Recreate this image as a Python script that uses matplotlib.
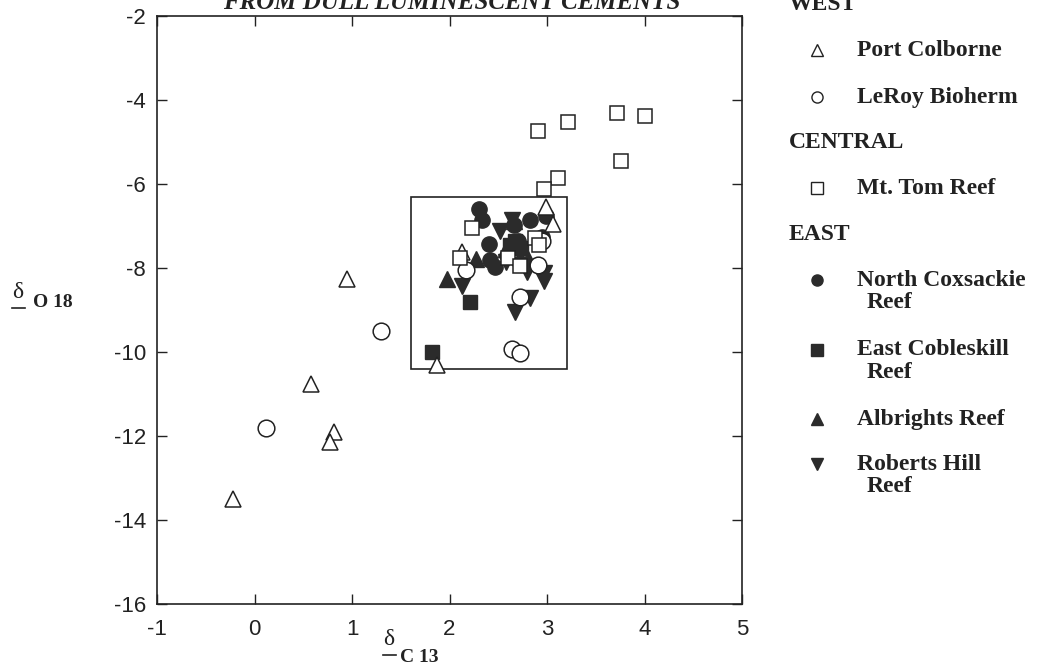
import matplotlib
matplotlib.use("Agg")
import matplotlib.pyplot as plt
from matplotlib.patches import Rectangle
from matplotlib.lines import Line2D

plt.rcParams["axes.unicode_minus"] = False

# valores (delta C13, delta O18)
port_x = [-0.22, 0.58, 0.82, 0.77, 0.95, 1.87, 2.13, 2.99, 3.06]
port_y = [-13.5, -10.75, -11.9, -12.15, -8.25, -10.3, -7.62, -6.55, -6.95]

leroy_x = [0.12, 1.30, 2.17, 2.91, 2.72, 2.64, 2.72, 2.95]
leroy_y = [-11.82, -9.5, -8.05, -7.93, -8.68, -9.93, -10.02, -7.35]

mttom_x = [2.91, 3.22, 3.72, 4.01, 3.76, 3.11, 2.97, 2.23, 2.11, 2.60, 2.88, 2.92, 2.72]
mttom_y = [-4.73, -4.52, -4.32, -4.37, -5.46, -5.86, -6.12, -7.05, -7.75, -7.75, -7.28, -7.45, -7.95]

coxs_x = [2.30, 2.33, 2.83, 2.99, 2.41, 2.42, 2.47, 2.70, 2.66, 2.95, 2.72]
coxs_y = [-6.6, -6.85, -6.85, -6.77, -7.42, -7.82, -7.98, -7.35, -6.98, -7.25, -7.88]

cobl_x = [1.82, 2.21, 2.67, 2.73, 2.62]
cobl_y = [-10.0, -8.82, -7.35, -7.52, -7.45]

albr_x = [1.97, 2.27, 2.66, 2.80, 2.58]
albr_y = [-8.25, -7.78, -6.88, -7.78, -7.55]

robh_x = [2.13, 2.67, 2.83, 2.79, 2.97, 2.97, 2.52, 2.64, 2.58]
robh_y = [-8.42, -9.05, -8.72, -8.1, -8.12, -8.3, -7.12, -6.85, -7.85]

x_ticks = [-1, 0, 1, 2, 3, 4, 5]
y_ticks = [-16, -14, -12, -10, -8, -6, -4, -2]

ink = "#222222"
fill = "#2b2b2b"
W, H = 1038, 667

fig = plt.figure(figsize=(W / 100, H / 100), dpi=100)
ax = fig.add_axes([157 / W, 1 - 604 / H, 585 / W, 588 / H])

# recuadro
ax.add_patch(Rectangle((1.6, -10.4), 1.6, 4.1, fill=False, lw=1.2, ec=ink, zorder=1))

# series rellenas primero, abiertas encima
ax.plot(coxs_x, coxs_y, "o", ms=11, mfc=fill, mec=fill, zorder=3)
ax.plot(cobl_x, cobl_y, "s", ms=10, mfc=fill, mec=fill, zorder=3)
ax.plot(albr_x, albr_y, "^", ms=11, mfc=fill, mec=fill, zorder=3)
ax.plot(robh_x, robh_y, "v", ms=11, mfc=fill, mec=fill, zorder=3)
ax.plot(port_x, port_y, "^", ms=12, mfc="white", mec=ink, mew=1.1, zorder=4)
ax.plot(leroy_x, leroy_y, "o", ms=12, mfc="white", mec=ink, mew=1.1, zorder=4)
ax.plot(mttom_x, mttom_y, "s", ms=10, mfc="white", mec=ink, mew=1.1, zorder=4)

ax.set_xlim(-1, 5)
ax.set_ylim(-16, -2)
ax.set_xticks(x_ticks)
ax.set_yticks(y_ticks)
ax.tick_params(direction="in", top=True, right=True, length=7, width=1, color=ink,
               labelsize=16, labelcolor=ink)
ax.tick_params(axis="x", pad=11)
ax.tick_params(axis="y", pad=8)
for lab in ax.get_xticklabels() + ax.get_yticklabels():
    lab.set_family("Liberation Sans")
for s in ax.spines.values():
    s.set_linewidth(1.2)
    s.set_color(ink)

serif = ["Liberation Serif", "DejaVu Serif"]

def fx(px):
    return px / W

def fy(py):
    return 1 - py / H

# titulo cortado arriba
fig.text(fx(452), fy(9), "FROM DULL LUMINESCENT CEMENTS", ha="center", va="baseline",
         family=serif, fontsize=18, weight="bold", style="italic", color=ink)

# etiquetas de ejes
fig.text(fx(12), fy(298), "δ", ha="left", va="baseline", family=serif, fontsize=17, color=ink)
fig.add_artist(Line2D([fx(12), fx(25)], [fy(308), fy(308)], color=ink, lw=1.2))
fig.text(fx(33), fy(307), "O 18", ha="left", va="baseline", family=serif, fontsize=14,
         weight="bold", color=ink)

fig.text(fx(383), fy(645), "δ", ha="left", va="baseline", family=serif, fontsize=17, color=ink)
fig.add_artist(Line2D([fx(383), fx(396)], [fy(655), fy(655)], color=ink, lw=1.2))
fig.text(fx(400), fy(662), "C 13", ha="left", va="baseline", family=serif, fontsize=14,
         weight="bold", color=ink)

# leyenda manual
heads = [("WEST", 10), ("CENTRAL", 148), ("EAST", 240)]
for txt, py in heads:
    fig.text(fx(789), fy(py), txt, ha="left", va="baseline", family=serif, fontsize=17,
             weight="bold", color=ink)

entries = [
    ("^", "white", "Port Colborne", None, 50),
    ("o", "white", "LeRoy Bioherm", None, 97),
    ("s", "white", "Mt. Tom Reef", None, 188),
    ("o", fill, "North Coxsackie", "Reef", 280),
    ("s", fill, "East Cobleskill", "Reef", 350),
    ("^", fill, "Albrights Reef", None, 419),
    ("v", fill, "Roberts Hill", "Reef", 464),
]
for mk, fc, l1, l2, py in entries:
    fig.add_artist(Line2D([fx(817)], [fy(py)], marker=mk, ms=8, mfc=fc,
                          mec=ink if fc == "white" else fc, mew=1.0, ls="none"))
    fig.text(fx(857), fy(py), l1, ha="left", va="center", family=serif, fontsize=17,
             weight="bold", color=ink)
    if l2:
        fig.text(fx(867), fy(py + 23), l2, ha="left", va="center", family=serif,
                 fontsize=17, weight="bold", color=ink)

fig.savefig("out.png", dpi=100)
